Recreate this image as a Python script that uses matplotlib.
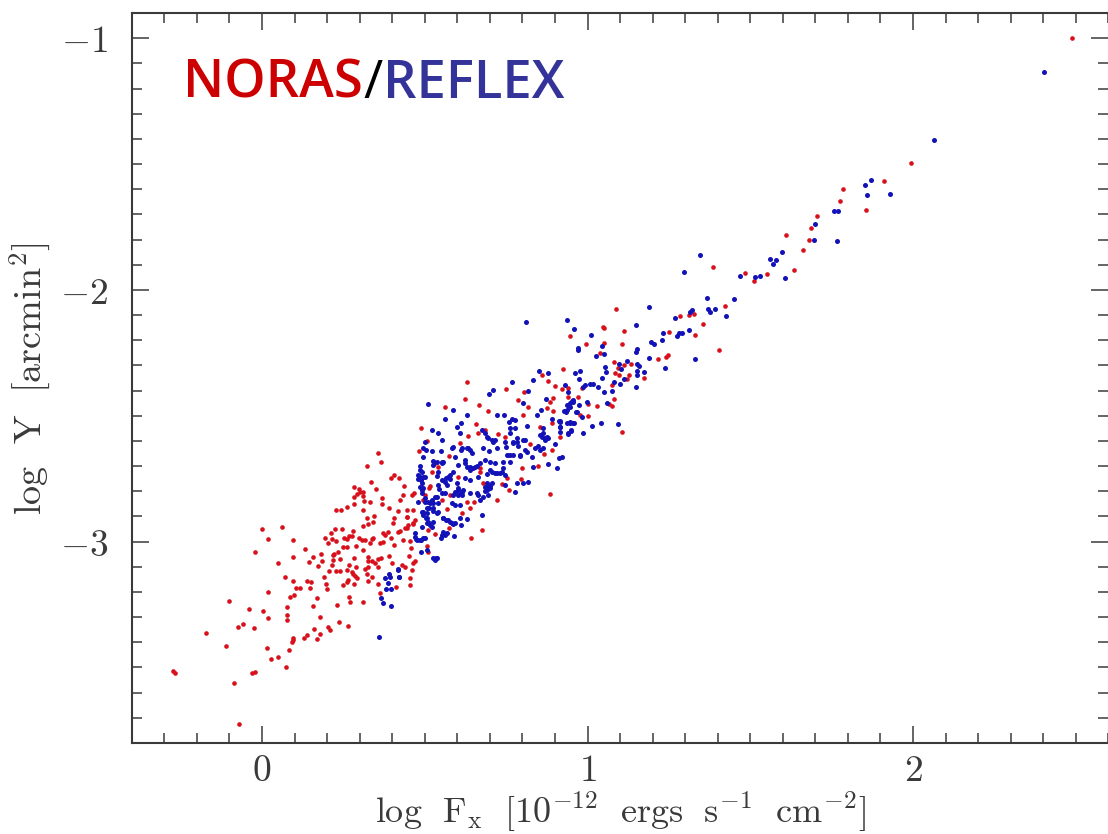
import matplotlib

matplotlib.use("Agg")
import matplotlib.pyplot as plt
from matplotlib.ticker import MultipleLocator

plt.rcParams["mathtext.fontset"] = "cm"

noras_x = [
    -0.273, -0.266, -0.173, -0.112, -0.085, -0.070, -0.101, -0.039, -0.074, -0.059, -0.026, -0.031, -0.020,
    0.001, 0.018, -0.020, 0.061, 0.095, 0.050, 0.095, 0.131, 0.002, 0.018, 0.018, 0.014, 0.027, 0.050, 0.073,
    0.084, 0.091, 0.094, 0.096, 0.077, 0.077, 0.077, 0.087, 0.097, 0.070, 0.094, 0.103, 0.116, 0.138, 0.151,
    0.148, 0.168, 0.157, 0.178, 0.160, 0.137, 0.129, 0.168, 0.179, 0.204, 0.209, 0.230, 0.237, 0.265, 0.270,
    0.268, 0.311, 0.144, 0.157, 0.180, 0.183, 0.172, 0.192, 0.198, 0.200, 0.206, 0.216, 0.226, 0.240, 0.219,
    0.222, 0.235, 0.219, 0.239, 0.248, 0.261, 0.289, 0.311, 0.283, 0.268, 0.260, 0.289, 0.275, 0.279, 0.287,
    0.292, 0.265, 0.260, 0.248, 0.284, 0.193, 0.203, 0.212, 0.214, 0.226, 0.223, 0.247, 0.253, 0.260, 0.268,
    0.278, 0.281, 0.299, 0.306, 0.315, 0.333, 0.337, 0.342, 0.226, 0.242, 0.261, 0.282, 0.283, 0.283, 0.291,
    0.298, 0.301, 0.311, 0.311, 0.313, 0.332, 0.311, 0.324, 0.326, 0.311, 0.342, 0.345, 0.322, 0.334, 0.350,
    0.356, 0.366, 0.370, 0.370, 0.391, 0.395, 0.406, 0.421, 0.436, 0.432, 0.424, 0.417, 0.407, 0.402, 0.445,
    0.447, 0.449, 0.439, 0.423, 0.417, 0.434, 0.397, 0.388, 0.373, 0.379, 0.373, 0.363, 0.405, 0.327, 0.327,
    0.337, 0.347, 0.356, 0.365, 0.391, 0.398, 0.357, 0.327, 0.317, 0.324, 0.337, 0.327, 0.356, 0.361, 0.412,
    0.429, 0.440,
    0.487, 0.483, 0.506, 0.562, 0.624, 0.666, 0.629, 0.573, 0.532, 0.542, 0.521, 0.603, 0.516, 0.514, 0.462,
    0.468, 0.501, 0.496, 0.552, 0.578, 0.567, 0.629, 0.639, 0.614, 0.465, 0.470, 0.465, 0.445, 0.445, 0.463,
    0.455, 0.458, 0.453, 0.470, 0.463, 0.460, 0.455, 0.455, 0.511, 0.506, 0.530, 0.511, 0.576, 0.642, 0.675,
    0.670, 0.670, 0.723, 0.759, 0.752, 0.736, 0.798, 0.795, 0.884, 0.847, 0.892, 0.867, 0.757, 0.747, 0.726,
    0.685, 0.664, 0.634, 0.658, 0.608, 0.695, 0.787, 0.818, 0.801, 0.854, 0.885, 0.893, 0.895, 0.892, 0.915,
    0.805, 0.749, 0.900, 0.941, 0.984, 1.003, 0.977, 1.028, 1.003, 0.680, 0.651, 0.823,
    1.387, 1.485, 1.510, 1.552, 1.421, 1.355, 1.330, 1.327, 1.313, 1.283, 1.250, 1.089, 1.112, 1.047, 1.051,
    0.947, 0.994, 1.052, 1.106, 1.037, 1.246, 1.241, 1.218, 1.404, 0.925, 0.860, 0.880, 1.080, 1.112, 1.134,
    1.095, 1.083, 1.098, 1.126, 1.122, 1.174, 1.076, 0.923, 0.970, 0.939, 1.081, 1.067, 1.076, 1.105, 0.876,
    2.488, 1.993, 1.911, 1.786, 1.777, 1.855, 1.705, 1.686, 1.682, 1.610, 1.663, 1.633,
]
noras_y = [
    -3.513, -3.520, -3.362, -3.413, -3.561, -3.724, -3.234, -3.268, -3.338, -3.329, -3.344, -3.521, -3.517,
    -2.949, -2.990, -3.042, -2.940, -2.995, -3.083, -3.062, -3.028, -3.276, -3.199, -3.305, -3.421, -3.468, -3.459, -3.500,
    -3.430, -3.398, -3.390, -3.383, -3.258, -3.291, -3.312, -3.221, -3.211, -3.142, -3.157, -3.185, -3.185, -3.156, -3.162,
    -3.186, -3.225, -3.256, -3.300, -3.346, -3.370, -3.381, -3.385, -3.366, -3.341, -3.350, -3.251, -3.319, -3.336, -3.238,
    -3.221, -3.240, -3.082, -3.062, -3.050, -3.075, -3.096, -3.141, -3.168, -3.190, -3.117, -3.093, -3.116, -3.117, -3.055,
    -3.050, -3.043, -3.072, -3.068, -3.023, -3.023, -3.018, -3.034, -3.066, -3.092, -3.111, -3.099, -3.119, -3.127, -3.137,
    -3.146, -3.153, -3.161, -3.173, -3.169, -2.984, -3.005, -2.965, -2.989, -2.998, -2.948, -2.948, -2.985, -2.991, -2.976,
    -2.978, -2.958, -2.987, -2.994, -2.993, -3.007, -2.991, -2.984, -2.876, -2.876, -2.862, -2.851, -2.822, -2.782, -2.809,
    -2.791, -2.802, -2.802, -2.818, -2.838, -2.844, -2.875, -2.907, -2.931, -2.938, -2.921, -2.899, -2.699, -2.762, -2.791,
    -2.646, -2.685, -2.826, -2.851, -2.866, -2.749, -2.737, -2.748, -2.780, -2.813, -2.835, -2.878, -2.908, -2.928, -2.875,
    -2.904, -2.935, -2.945, -2.957, -2.962, -2.994, -2.984, -2.962, -2.964, -2.972, -3.002, -3.006, -3.014, -3.060, -3.076,
    -3.076, -3.084, -3.068, -3.066, -3.059, -3.083, -3.100, -3.101, -3.107, -3.129, -3.140, -3.156, -3.170, -3.206, -3.180,
    -3.091, -3.100,
    -2.550, -2.639, -2.599, -2.464, -2.435, -2.456, -2.365, -2.659, -2.689, -2.705, -2.722, -2.742, -2.779, -2.788, -2.815,
    -2.808, -2.815, -2.835, -2.835, -2.815, -2.871, -2.841, -2.868, -2.888, -2.875, -2.914, -2.931, -2.901, -2.947, -2.927,
    -2.998, -3.027, -3.057, -3.077, -3.084, -3.113, -3.143, -3.171, -3.040, -3.018, -2.971, -2.954, -2.945, -2.984, -2.954,
    -2.709, -2.722, -2.835, -2.795, -2.746, -2.771, -2.709, -2.753, -2.810, -2.698, -2.636, -2.652, -2.656, -2.583, -2.574,
    -2.557, -2.570, -2.581, -2.533, -2.610, -2.481, -2.437, -2.464, -2.497, -2.543, -2.444, -2.480, -2.431, -2.528, -2.583,
    -2.404, -2.394, -2.382, -2.391, -2.391, -2.500, -2.497, -2.461, -2.453, -2.769, -2.841, -2.614,
    -1.911, -1.934, -1.964, -1.936, -2.063, -2.137, -2.178, -2.096, -2.101, -2.104, -2.168, -2.077, -2.165, -2.149, -2.150,
    -2.182, -2.215, -2.210, -2.215, -2.252, -2.258, -2.267, -2.276, -2.240, -2.313, -2.337, -2.360, -2.287, -2.299, -2.293,
    -2.312, -2.332, -2.337, -2.338, -2.354, -2.349, -2.378, -2.394, -2.424, -2.427, -2.434, -2.455, -2.460, -2.566, -2.471,
    -1.000, -1.494, -1.568, -1.598, -1.648, -1.682, -1.705, -1.753, -1.803, -1.783, -1.841, -1.922,
]

reflex_x = [
    0.418, 0.389, 0.393, 0.379, 0.388, 0.420, 0.380, 0.395, 0.365, 0.373, 0.395, 0.360,
    0.511, 0.587, 0.562, 0.631, 0.521, 0.540, 0.554, 0.501, 0.496, 0.504, 0.521, 0.550, 0.496, 0.526, 0.552,
    0.486, 0.491, 0.483, 0.494, 0.478, 0.491, 0.496, 0.491, 0.478, 0.501, 0.516, 0.491, 0.506, 0.526, 0.542,
    0.504, 0.508, 0.523, 0.557, 0.572, 0.588, 0.610, 0.608, 0.629, 0.675, 0.562, 0.550, 0.590, 0.493, 0.470,
    0.473, 0.490, 0.501, 0.489, 0.506, 0.534, 0.419, 0.421, 0.537, 0.540, 0.544, 0.567, 0.565, 0.578, 0.588,
    0.603, 0.593, 0.611, 0.634, 0.624, 0.639, 0.655, 0.685, 0.701, 0.716, 0.665, 0.690, 0.716, 0.736, 0.680,
    0.644, 0.698, 0.723, 0.598, 0.610, 0.608, 0.675, 0.695, 0.709, 0.721, 0.742, 0.767, 0.760, 0.778, 0.762,
    0.778, 0.762, 0.783, 0.771, 0.788, 0.750, 0.809, 0.809, 0.793, 0.831, 0.762, 0.740, 0.834, 0.880, 0.907,
    0.911, 0.921, 0.900, 0.849, 0.839, 0.844, 0.856, 0.813, 0.864, 0.854, 0.870, 0.880, 0.911, 0.916, 0.916,
    0.939, 0.950, 0.947, 0.933, 0.947, 0.954, 0.987, 1.015, 1.041, 0.967, 0.982, 0.975, 0.998, 0.993, 1.016,
    1.031, 1.052, 1.059, 0.931, 0.941, 0.818, 0.801, 0.769, 0.711, 0.697, 0.874, 0.747, 0.783, 0.801, 0.816,
    0.777, 0.690, 0.701, 0.685, 0.661, 0.670, 0.639, 0.603, 0.610, 0.588, 0.624, 0.639,
    0.812, 0.937, 0.960, 1.010, 0.851, 0.878, 0.834, 0.962, 0.978, 0.975, 0.972, 0.970, 1.044, 1.026, 1.052,
    1.149, 1.188, 1.151, 1.148, 1.189, 1.054, 1.056, 1.044, 1.097, 1.122, 1.103, 1.153, 1.159, 1.153, 1.175,
    1.151, 1.112, 1.100, 1.082, 1.148, 1.075, 1.093, 1.196, 1.205, 1.228, 1.231, 1.276, 1.282, 1.291, 1.313,
    1.270, 1.315, 1.320, 1.371, 1.376, 1.391, 1.366, 1.426, 1.449, 1.296, 1.347, 1.469, 1.516, 1.529, 1.562,
    1.569, 1.580, 1.237, 1.329, 0.952, 0.936, 0.929, 0.965, 0.890, 0.914, 0.938, 0.955, 0.949, 0.939, 0.914,
    2.403, 2.064, 1.872, 1.853, 1.860, 1.928, 1.758, 1.770, 1.698, 1.697, 1.767, 1.598, 1.606,
    0.485, 0.480, 0.487, 0.501, 0.486, 0.491, 0.501, 0.511, 0.521, 0.531, 0.496, 0.496, 0.506, 0.514, 0.526,
    0.537, 0.508, 0.511, 0.516, 0.526, 0.555, 0.565, 0.578, 0.583, 0.593, 0.557, 0.567, 0.552, 0.470, 0.475,
    0.485, 0.496, 0.526, 0.537, 0.531, 0.552, 0.557, 0.537, 0.526, 0.542, 0.552, 0.572, 0.578, 0.562, 0.598,
    0.603, 0.613, 0.619, 0.593, 0.603, 0.613, 0.583, 0.593, 0.608, 0.552, 0.562, 0.537, 0.542, 0.526, 0.624,
    0.629, 0.639, 0.649, 0.659, 0.670, 0.613, 0.629, 0.639, 0.588, 0.583, 0.685, 0.692, 0.700, 0.706, 0.690,
    0.695, 0.680, 0.665, 0.700, 0.706, 0.721, 0.731, 0.741, 0.747, 0.685, 0.690, 0.706, 0.716, 0.747, 0.772,
    0.782, 0.803, 0.752, 0.762, 0.772, 0.793, 0.813, 0.854, 0.864, 0.859, 0.869, 0.864, 0.875, 0.936, 0.946,
    0.956, 0.987, 1.008, 0.946, 0.957, 0.916,
]
reflex_y = [
    -3.111, -3.128, -3.141, -3.144, -3.164, -3.142, -3.189, -3.190, -3.223, -3.243, -3.255, -3.380,
    -2.455, -2.479, -2.512, -2.496, -2.557, -2.569, -2.598, -2.606, -2.630, -2.636, -2.639, -2.639, -2.663, -2.680, -2.689,
    -2.700, -2.722, -2.739, -2.745, -2.753, -2.769, -2.788, -2.808, -2.841, -2.841, -2.848, -2.881, -2.888, -2.868, -2.881,
    -2.908, -2.928, -2.941, -2.908, -2.914, -2.930, -2.934, -2.908, -2.910, -2.894, -2.974, -2.987, -2.977, -2.941, -2.965,
    -2.991, -2.994, -2.984, -3.040, -3.034, -3.067, -3.110, -3.142, -2.739, -2.775, -2.792, -2.775, -2.749, -2.735, -2.722,
    -2.696, -2.663, -2.636, -2.630, -2.676, -2.705, -2.705, -2.676, -2.682, -2.689, -2.742, -2.732, -2.729, -2.722, -2.630,
    -2.649, -2.639, -2.630, -2.543, -2.530, -2.567, -2.557, -2.590, -2.603, -2.497, -2.497, -2.514, -2.524, -2.517, -2.547,
    -2.547, -2.570, -2.590, -2.606, -2.619, -2.623, -2.596, -2.636, -2.660, -2.663, -2.682, -2.682, -2.704, -2.693, -2.709,
    -2.669, -2.665, -2.612, -2.620, -2.630, -2.497, -2.477, -2.541, -2.550, -2.577, -2.596, -2.590, -2.521, -2.543, -2.563,
    -2.570, -2.557, -2.530, -2.484, -2.464, -2.444, -2.570, -2.539, -2.528, -2.486, -2.504, -2.457, -2.444, -2.378, -2.374,
    -2.384, -2.404, -2.448, -2.378, -2.404, -2.402, -2.451, -2.365, -2.398, -2.414, -2.435, -2.775, -2.769, -2.769, -2.762,
    -2.802, -2.782, -2.779, -2.799, -2.808, -2.835, -2.808, -2.795, -2.808, -2.815, -2.749, -2.755,
    -2.128, -2.120, -2.157, -2.179, -2.323, -2.329, -2.356, -2.332, -2.324, -2.354, -2.230, -2.239, -2.223, -2.264, -2.255,
    -2.138, -2.068, -2.236, -2.247, -2.271, -2.305, -2.325, -2.349, -2.293, -2.281, -2.316, -2.296, -2.301, -2.321, -2.325,
    -2.337, -2.353, -2.372, -2.365, -2.387, -2.402, -2.534, -2.207, -2.214, -2.198, -2.170, -2.182, -2.173, -2.172, -2.160,
    -2.113, -2.087, -2.080, -2.077, -2.087, -2.075, -2.031, -2.103, -2.036, -1.929, -1.860, -1.944, -1.949, -1.944, -1.876,
    -1.897, -1.883, -2.309, -2.276, -2.442, -2.478, -2.481, -2.487, -2.513, -2.521, -2.530, -2.530, -2.560, -2.573, -2.544,
    -1.133, -1.403, -1.563, -1.584, -1.625, -1.619, -1.685, -1.688, -1.737, -1.800, -1.804, -1.851, -1.953,
    -2.716, -2.735, -2.755, -2.742, -2.782, -2.795, -2.828, -2.841, -2.835, -2.822, -2.881, -2.894, -2.868, -2.868, -2.877,
    -2.885, -2.908, -2.921, -2.934, -2.921, -2.908, -2.914, -2.921, -2.928, -2.928, -2.961, -2.967, -2.974, -2.980, -2.994,
    -2.994, -2.987, -3.067, -3.067, -3.073, -2.682, -2.682, -2.682, -2.696, -2.722, -2.755, -2.742, -2.753, -2.762, -2.769,
    -2.788, -2.802, -2.795, -2.802, -2.815, -2.815, -2.848, -2.855, -2.855, -2.808, -2.808, -2.822, -2.848, -2.848, -2.689,
    -2.705, -2.716, -2.709, -2.700, -2.689, -2.630, -2.630, -2.636, -2.623, -2.630, -2.782, -2.795, -2.788, -2.769, -2.769,
    -2.815, -2.822, -2.815, -2.716, -2.722, -2.726, -2.729, -2.709, -2.735, -2.570, -2.583, -2.596, -2.596, -2.603, -2.610,
    -2.603, -2.596, -2.656, -2.656, -2.656, -2.656, -2.643, -2.636, -2.630, -2.583, -2.590, -2.570, -2.583, -2.457, -2.451,
    -2.437, -2.384, -2.374, -2.524, -2.530, -2.524,
]

major_x = [0, 1, 2]
major_y = [-1, -2, -3]
x_labels = ["$0$", "$1$", "$2$"]
y_labels = ["$-1$", "$-2$", "$-3$"]

INK = "#3a3a3a"

fig = plt.figure(figsize=(11.08, 8.34), dpi=100)
ax = fig.add_axes([131.8 / 1108, 91 / 834, 976.5 / 1108, 730 / 834])

ax.scatter(noras_x, noras_y, s=11, color="#d8101c", linewidths=0, zorder=2)
ax.scatter(reflex_x, reflex_y, s=13, color="#1212b8", linewidths=0, zorder=3)

ax.set_xlim(-0.4, 2.6)
ax.set_ylim(-3.8, -0.9)

ax.set_xticks(major_x)
ax.set_xticklabels(x_labels)
ax.set_yticks(major_y)
ax.set_yticklabels(y_labels)
ax.xaxis.set_minor_locator(MultipleLocator(0.1))
ax.yaxis.set_minor_locator(MultipleLocator(0.1))
ax.tick_params(which="major", direction="in", top=True, right=True, length=12,
               width=1.1, color=INK, labelsize=27, labelcolor=INK)
ax.tick_params(which="minor", direction="in", top=True, right=True, length=7,
               width=1.1, color=INK)
ax.tick_params(axis="x", which="major", pad=7)
ax.tick_params(axis="y", which="major", pad=17)

for side in ["left", "top", "bottom"]:
    ax.spines[side].set_linewidth(1.5)
    ax.spines[side].set_color(INK)
ax.spines["right"].set_visible(False)

fig.text(620 / 1108, 1 - 812 / 834, r"$\mathrm{log\ \ F_x\ \ [10^{-12}\ \ ergs\ \ s^{-1}\ \ cm^{-2}]}$",
         fontsize=26, color=INK, ha="center", va="center")
fig.text(30 / 1108, 1 - 379 / 834, r"$\mathrm{log\ \ Y\ \ [arcmin^{2}]}$",
         fontsize=27.5, color=INK, ha="center", va="center", rotation=90)

noras = ax.text((183.5 - 131.8) / 976.5, 1 - (98 - 13) / 730, "NORAS",
                transform=ax.transAxes, family="Open Sans", weight="semibold",
                fontsize=37.8, color="#cc0000", va="baseline")
slash = ax.annotate("/", xy=(1, 0), xycoords=noras, family="Open Sans", weight="normal",
                    fontsize=37.8, color="black", va="bottom")
ax.annotate("REFLEX", xy=(1, 0), xycoords=slash, family="Open Sans", weight="semibold",
            fontsize=37.8, color="#333399", va="bottom")

fig.savefig("out.png", dpi=100)
plt.close(fig)

print(len(noras_x), len(noras_y), len(reflex_x), len(reflex_y))
